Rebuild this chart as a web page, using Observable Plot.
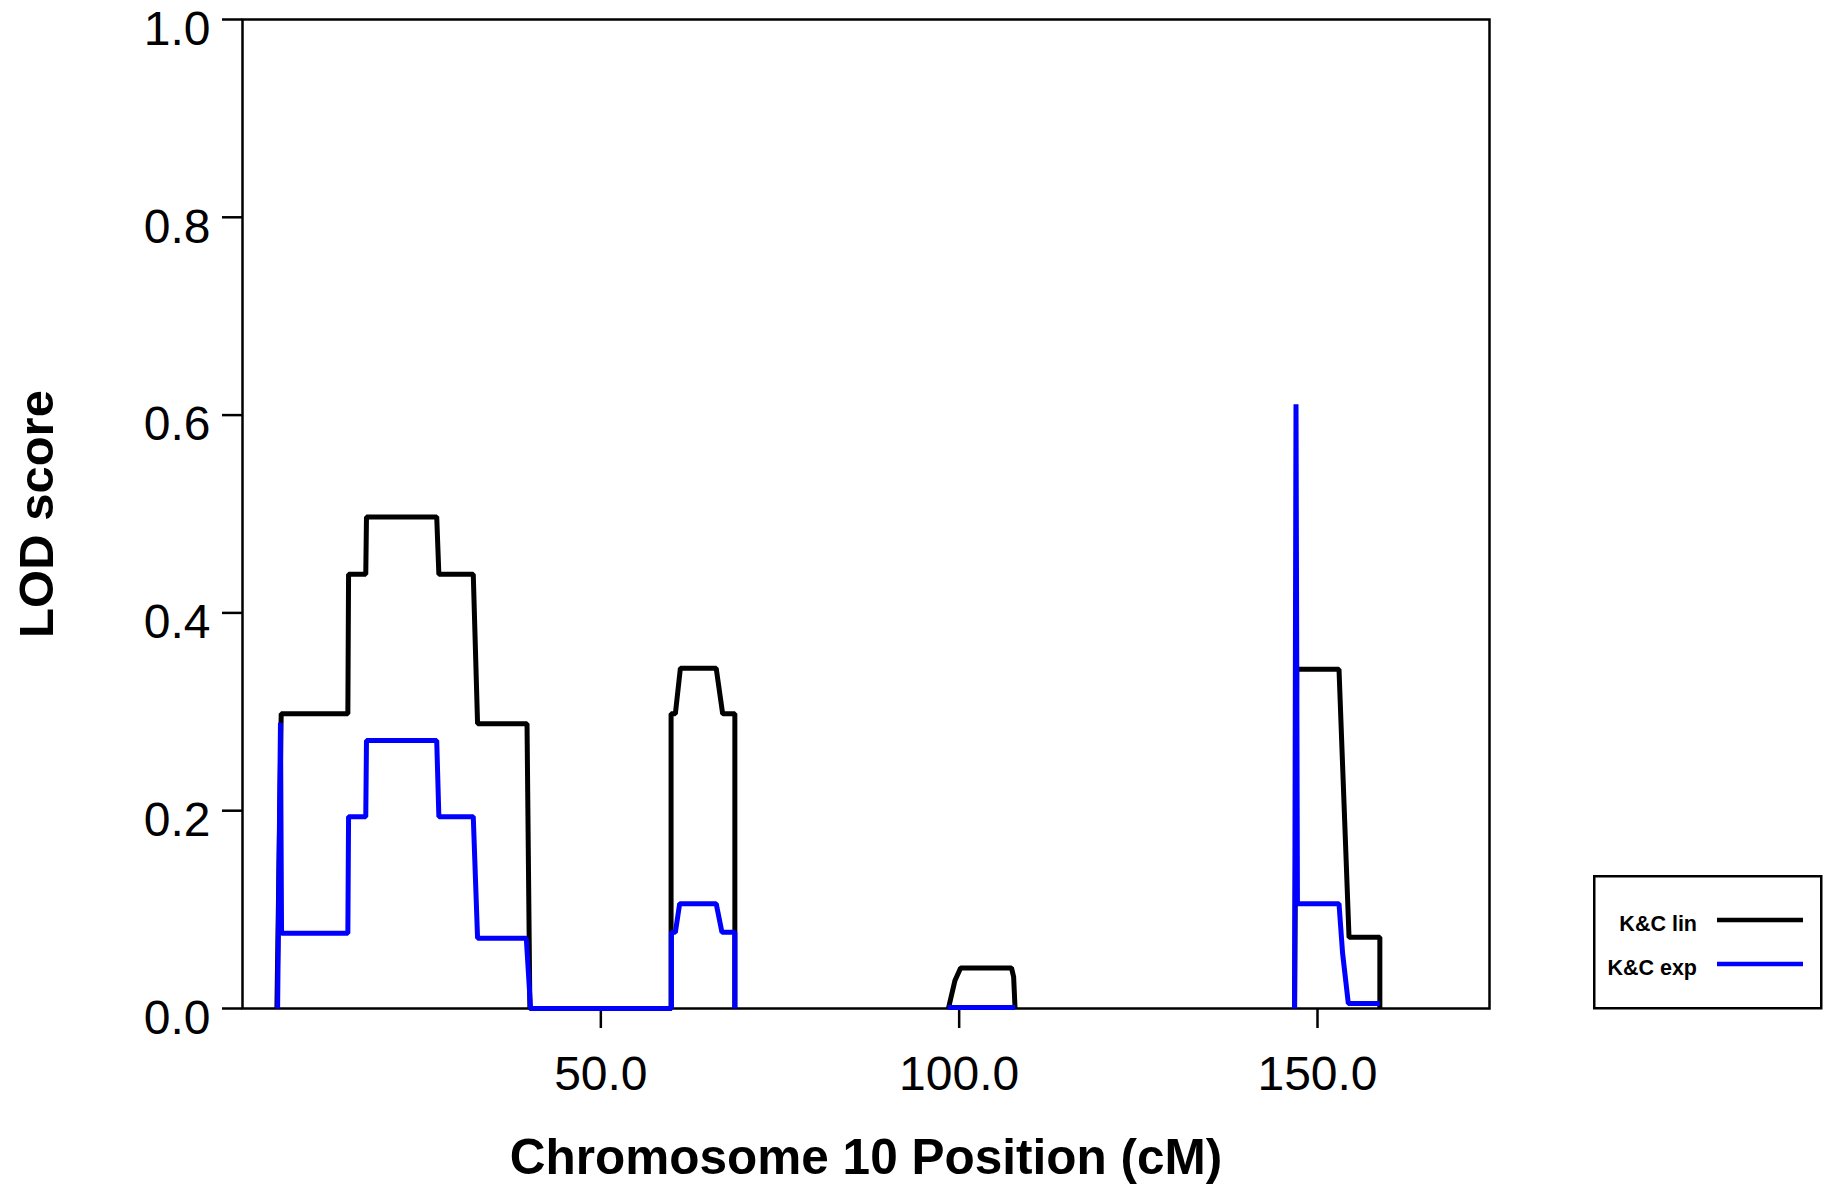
<!DOCTYPE html>
<html>
<head>
<meta charset="utf-8">
<script src="https://cdn.jsdelivr.net/npm/d3@7"></script>
<script src="https://cdn.jsdelivr.net/npm/@observablehq/plot@0.6"></script>
<style>
  html, body { margin: 0; padding: 0; background: #fff; }
  #wrap { position: relative; width: 1832px; height: 1186px; font-family: "Liberation Sans", Arial, sans-serif; }
  #legend { position: absolute; left: 1593px; top: 875px; }
</style>
</head>
<body>
<div id="wrap"></div>
<script>
// ---- data ----
const xTicks = [50, 100, 150];
const yTicks = [0, 0.2, 0.4, 0.6, 0.8, 1.0];
const seriesNames = ["K&C lin", "K&C exp"];
const seriesColors = ["#000000", "#0000ff"];
const xTitle = "Chromosome 10 Position (cM)";
const yTitle = "LOD score";

// K&C lin (black); NaN marks a gap between segments
const linX = [4.8, 5.4, 14.7, 14.8, 17.2, 17.3, 27.1, 27.4, 32.2, 32.8, 39.7, 40.1, 59.8, 59.8, 60.4, 61.1, 66.1, 67.0, 68.7, 68.7,
              NaN,
              98.5, 99.4, 100.2, 107.3, 107.6, 107.8,
              NaN,
              146.8, 147.1, 153.0, 154.4, 158.7, 158.7];
const linY = [0, 0.298, 0.298, 0.439, 0.439, 0.497, 0.497, 0.439, 0.439, 0.288, 0.288, 0, 0, 0.298, 0.298, 0.344, 0.344, 0.298, 0.298, 0,
              NaN,
              0, 0.028, 0.041, 0.041, 0.032, 0,
              NaN,
              0, 0.343, 0.343, 0.072, 0.072, 0];

// K&C exp (blue)
const expX = [4.9, 5.3, 5.45, 14.7, 14.8, 17.2, 17.3, 27.1, 27.4, 32.2, 32.8, 39.6, 40.2, 59.85, 59.85, 60.4, 61.0, 66.1, 66.9, 68.7, 68.7,
              NaN,
              98.4, 107.8,
              NaN,
              146.8, 147.0, 147.2, 153.0, 153.5, 154.3, 158.7];
const expY = [0, 0.289, 0.076, 0.076, 0.194, 0.194, 0.271, 0.271, 0.194, 0.194, 0.071, 0.071, 0, 0, 0.077, 0.077, 0.106, 0.106, 0.077, 0.077, 0,
              NaN,
              0.001, 0.001,
              NaN,
              0, 0.611, 0.106, 0.106, 0.056, 0.005, 0.005];

const lin = linX.map((x, i) => ({x, y: linY[i]}));
const exp = expX.map((x, i) => ({x, y: expY[i]}));

const font = "'Liberation Sans', Arial, Helvetica, sans-serif";

const chart = Plot.plot({
  width: 1832,
  height: 1186,
  marginLeft: 242,
  marginRight: 343,
  marginTop: 19,
  marginBottom: 178,
  x: {domain: [0, 174]},
  y: {domain: [0, 1]},
  style: {fontFamily: font, background: "white", color: "black", overflow: "visible"},
  marks: [
    Plot.frame({stroke: "black", strokeWidth: 2.5}),
    Plot.axisY(yTicks, {tickSize: 20, strokeWidth: 2.5, tickFormat: () => "", label: null}),
    Plot.axisY(yTicks, {tickSize: 0, tickPadding: 32, dy: 10, fontSize: 48, tickFormat: d => d.toFixed(1), label: null}),
    Plot.axisX(xTicks, {tickSize: 20, strokeWidth: 2.5, tickPadding: 27, fontSize: 48, tickFormat: d => d.toFixed(1), label: null}),
    Plot.line(lin, {x: "x", y: "y", stroke: seriesColors[0], strokeWidth: 5, strokeLinejoin: "miter", strokeLinecap: "butt"}),
    Plot.line(exp, {x: "x", y: "y", stroke: seriesColors[1], strokeWidth: 5, strokeLinejoin: "miter", strokeLinecap: "butt"}),
    Plot.text([xTitle], {frameAnchor: "bottom", lineAnchor: "middle", textAnchor: "middle", dy: 150, fontSize: 49.5, fontWeight: "bold", fill: "black"}),
    Plot.text([yTitle], {frameAnchor: "left", lineAnchor: "middle", textAnchor: "middle", dx: -205, rotate: -90, fontSize: 49, fontWeight: "bold", fill: "black"})
  ]
});
document.getElementById("wrap").appendChild(chart);

// legend (SVG overlay at right)
const ns = "http://www.w3.org/2000/svg";
const leg = document.createElementNS(ns, "svg");
leg.setAttribute("id", "legend");
leg.setAttribute("width", 230);
leg.setAttribute("height", 136);
const rect = document.createElementNS(ns, "rect");
rect.setAttribute("x", 1.25); rect.setAttribute("y", 1.25);
rect.setAttribute("width", 227); rect.setAttribute("height", 132);
rect.setAttribute("fill", "white"); rect.setAttribute("stroke", "black"); rect.setAttribute("stroke-width", 2.5);
leg.appendChild(rect);
seriesNames.forEach((name, i) => {
  const t = document.createElementNS(ns, "text");
  t.setAttribute("x", 104);
  t.setAttribute("y", 56 + i * 44);
  t.setAttribute("text-anchor", "end");
  t.setAttribute("font-family", font);
  t.setAttribute("font-weight", "bold");
  t.setAttribute("font-size", 21.5);
  t.textContent = name;
  leg.appendChild(t);
  const l = document.createElementNS(ns, "line");
  l.setAttribute("x1", 124); l.setAttribute("x2", 210);
  l.setAttribute("y1", 45 + i * 44); l.setAttribute("y2", 45 + i * 44);
  l.setAttribute("stroke", seriesColors[i]); l.setAttribute("stroke-width", 4.5);
  leg.appendChild(l);
});
document.getElementById("wrap").appendChild(leg);
</script>
</body>
</html>
